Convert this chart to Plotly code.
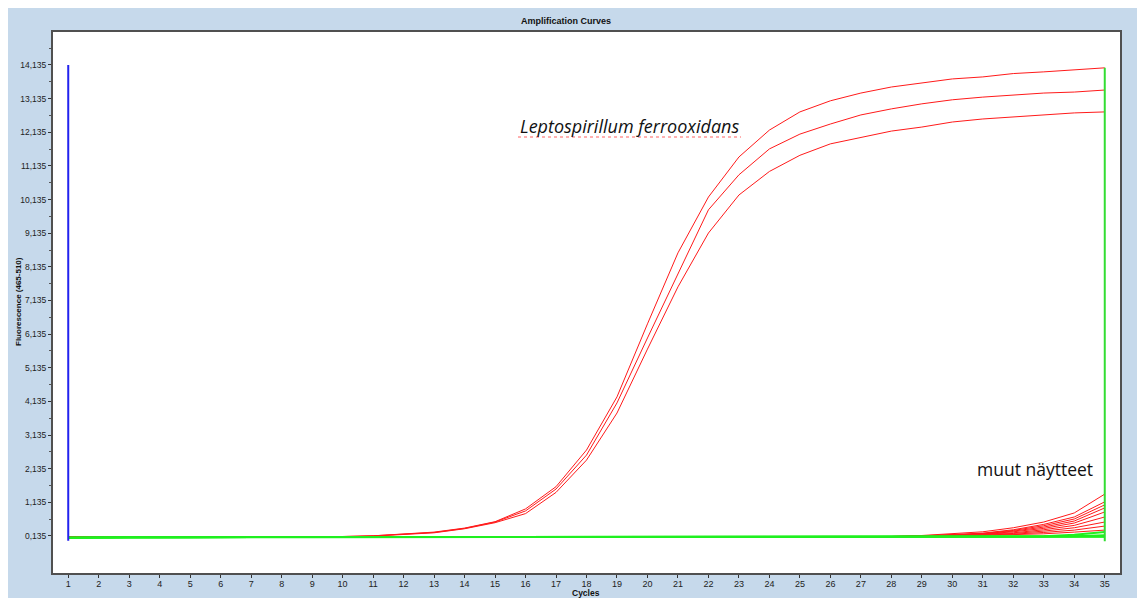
import plotly.graph_objects as go

# ---------------- data ----------------
cycles = list(range(1, 36))

lepto_1 = [0.10, 0.10, 0.10, 0.10, 0.10, 0.10, 0.10, 0.10, 0.10, 0.12, 0.14, 0.19, 0.25, 0.37, 0.56,
           0.94, 1.60, 2.69, 4.27, 6.44, 8.55, 10.21, 11.40, 12.20, 12.74, 13.07, 13.30, 13.48, 13.60, 13.72,
           13.78, 13.88, 13.93, 13.99, 14.05]
lepto_2 = [0.10, 0.10, 0.10, 0.10, 0.10, 0.10, 0.10, 0.10, 0.10, 0.12, 0.14, 0.18, 0.24, 0.36, 0.55,
           0.88, 1.53, 2.54, 4.09, 6.02, 7.95, 9.83, 10.87, 11.64, 12.08, 12.38, 12.65, 12.83, 12.98, 13.10,
           13.18, 13.24, 13.30, 13.33, 13.39]
lepto_3 = [0.10, 0.10, 0.10, 0.10, 0.10, 0.10, 0.10, 0.10, 0.10, 0.11, 0.13, 0.17, 0.23, 0.35, 0.53,
           0.80, 1.43, 2.39, 3.79, 5.69, 7.54, 9.14, 10.27, 10.97, 11.45, 11.79, 11.99, 12.17, 12.29, 12.44,
           12.53, 12.59, 12.65, 12.71, 12.74]

other_1 = [0.10, 0.10, 0.10, 0.10, 0.10, 0.10, 0.10, 0.10, 0.10, 0.10, 0.10, 0.10, 0.10, 0.10, 0.10,
           0.10, 0.10, 0.10, 0.10, 0.10, 0.10, 0.10, 0.10, 0.10, 0.10, 0.10, 0.10, 0.12, 0.15, 0.20,
           0.26, 0.38, 0.55, 0.82, 1.38]
other_2 = [0.10, 0.10, 0.10, 0.10, 0.10, 0.10, 0.10, 0.10, 0.10, 0.10, 0.10, 0.10, 0.10, 0.10, 0.10,
           0.10, 0.10, 0.10, 0.10, 0.10, 0.10, 0.10, 0.10, 0.10, 0.10, 0.10, 0.10, 0.12, 0.14, 0.17,
           0.22, 0.32, 0.48, 0.70, 1.15]
other_3 = [0.10, 0.10, 0.10, 0.10, 0.10, 0.10, 0.10, 0.10, 0.10, 0.10, 0.10, 0.10, 0.10, 0.10, 0.10,
           0.10, 0.10, 0.10, 0.10, 0.10, 0.10, 0.10, 0.10, 0.10, 0.10, 0.10, 0.10, 0.12, 0.14, 0.16,
           0.21, 0.30, 0.44, 0.64, 1.06]
other_4 = [0.10, 0.10, 0.10, 0.10, 0.10, 0.10, 0.10, 0.10, 0.10, 0.10, 0.10, 0.10, 0.10, 0.10, 0.10,
           0.10, 0.10, 0.10, 0.10, 0.10, 0.10, 0.10, 0.10, 0.10, 0.10, 0.10, 0.10, 0.11, 0.13, 0.16,
           0.20, 0.28, 0.40, 0.58, 0.97]
other_5 = [0.10, 0.10, 0.10, 0.10, 0.10, 0.10, 0.10, 0.10, 0.10, 0.10, 0.10, 0.10, 0.10, 0.10, 0.10,
           0.10, 0.10, 0.10, 0.10, 0.10, 0.10, 0.10, 0.10, 0.10, 0.10, 0.10, 0.10, 0.11, 0.13, 0.15,
           0.19, 0.26, 0.36, 0.52, 0.85]
other_6 = [0.10, 0.10, 0.10, 0.10, 0.10, 0.10, 0.10, 0.10, 0.10, 0.10, 0.10, 0.10, 0.10, 0.10, 0.10,
           0.10, 0.10, 0.10, 0.10, 0.10, 0.10, 0.10, 0.10, 0.10, 0.10, 0.10, 0.10, 0.11, 0.12, 0.15,
           0.18, 0.23, 0.32, 0.45, 0.70]
other_7 = [0.10, 0.10, 0.10, 0.10, 0.10, 0.10, 0.10, 0.10, 0.10, 0.10, 0.10, 0.10, 0.10, 0.10, 0.10,
           0.10, 0.10, 0.10, 0.10, 0.10, 0.10, 0.10, 0.10, 0.10, 0.10, 0.10, 0.10, 0.10, 0.12, 0.14,
           0.17, 0.21, 0.28, 0.38, 0.55]
other_8 = [0.10, 0.10, 0.10, 0.10, 0.10, 0.10, 0.10, 0.10, 0.10, 0.10, 0.10, 0.10, 0.10, 0.10, 0.10,
           0.10, 0.10, 0.10, 0.10, 0.10, 0.10, 0.10, 0.10, 0.10, 0.10, 0.10, 0.10, 0.10, 0.12, 0.14,
           0.16, 0.19, 0.24, 0.31, 0.43]
other_9 = [0.10, 0.10, 0.10, 0.10, 0.10, 0.10, 0.10, 0.10, 0.10, 0.10, 0.10, 0.10, 0.10, 0.10, 0.10,
           0.10, 0.10, 0.10, 0.10, 0.10, 0.10, 0.10, 0.10, 0.10, 0.10, 0.10, 0.10, 0.10, 0.11, 0.13,
           0.15, 0.17, 0.20, 0.25, 0.31]

neg_1 = [0.08, 0.10, 0.10, 0.10, 0.10, 0.10, 0.10, 0.10, 0.10, 0.10, 0.10, 0.10, 0.10, 0.10, 0.10,
         0.10, 0.10, 0.10, 0.10, 0.10, 0.10, 0.10, 0.10, 0.10, 0.10, 0.10, 0.10, 0.10, 0.10, 0.10,
         0.11, 0.12, 0.13, 0.17, 0.25]
neg_2 = [0.08, 0.10, 0.10, 0.10, 0.10, 0.10, 0.10, 0.10, 0.10, 0.10, 0.10, 0.10, 0.10, 0.10, 0.10,
         0.10, 0.10, 0.10, 0.10, 0.10, 0.10, 0.10, 0.10, 0.10, 0.10, 0.10, 0.10, 0.10, 0.10, 0.10,
         0.10, 0.11, 0.12, 0.13, 0.16]
neg_3 = [0.08, 0.10, 0.10, 0.10, 0.10, 0.10, 0.10, 0.10, 0.10, 0.10, 0.10, 0.10, 0.10, 0.10, 0.10,
         0.10, 0.10, 0.10, 0.10, 0.10, 0.10, 0.10, 0.10, 0.10, 0.10, 0.10, 0.10, 0.10, 0.10, 0.10,
         0.10, 0.10, 0.11, 0.11, 0.12]
neg_4 = [0.08, 0.09, 0.09, 0.09, 0.09, 0.10, 0.10, 0.10, 0.10, 0.10, 0.10, 0.10, 0.10, 0.10, 0.10,
         0.10, 0.10, 0.10, 0.10, 0.10, 0.10, 0.10, 0.10, 0.10, 0.10, 0.10, 0.09, 0.09, 0.10, 0.10,
         0.10, 0.10, 0.10, 0.10, 0.11]

lepto_series = [lepto_1, lepto_2, lepto_3]
other_series = [other_1, other_2, other_3, other_4, other_5, other_6, other_7, other_8, other_9]
neg_series = [neg_1, neg_2, neg_3, neg_4]

y_tick_values = [0.135, 1.135, 2.135, 3.135, 4.135, 5.135, 6.135, 7.135, 8.135, 9.135,
                 10.135, 11.135, 12.135, 13.135, 14.135]
y_tick_labels = ["0,135", "1,135", "2,135", "3,135", "4,135", "5,135", "6,135", "7,135", "8,135",
                 "9,135", "10,135", "11,135", "12,135", "13,135", "14,135"]
y_minor_values = [0.635, 1.635, 2.635, 3.635, 4.635, 5.635, 6.635, 7.635, 8.635, 9.635,
                  10.635, 11.635, 12.635, 13.635, 14.635]

start_marker = [1, -0.01, 14.135]   # cycle, bottom, top (blue)
end_marker = [35, -0.02, 14.05]     # cycle, bottom, top (green)

# ---------------- figure ----------------
RED = "#ff1a1a"
GREEN = "#1ff01f"

fig = go.Figure()

for s in lepto_series:
    fig.add_trace(go.Scatter(x=cycles, y=s, mode="lines", line=dict(color=RED, width=1),
                             showlegend=False, hoverinfo="skip"))
for s in other_series:
    fig.add_trace(go.Scatter(x=cycles, y=s, mode="lines", line=dict(color=RED, width=1),
                             showlegend=False, hoverinfo="skip"))
for s in neg_series:
    fig.add_trace(go.Scatter(x=cycles, y=s, mode="lines", line=dict(color=GREEN, width=2),
                             showlegend=False, hoverinfo="skip"))

# vertical markers
fig.add_trace(go.Scatter(x=[start_marker[0], start_marker[0]], y=[start_marker[1], start_marker[2]],
                         mode="lines", line=dict(color="#2222ee", width=2),
                         showlegend=False, hoverinfo="skip"))
fig.add_trace(go.Scatter(x=[end_marker[0], end_marker[0]], y=[end_marker[1], end_marker[2]],
                         mode="lines", line=dict(color="#33dd33", width=2),
                         showlegend=False, hoverinfo="skip"))

W, H = 1141, 598
L, R, T, B = 53, 21, 32, 25
pw, ph = W - L - R, H - T - B

def px_x(p):
    return (p - L) / pw

def px_y(p):
    return (H - B - p) / ph

BG = "#c6d9eb"
shapes = [
    # white strips around the outer panel
    dict(type="rect", xref="paper", yref="paper", x0=px_x(0), x1=px_x(W), y0=px_y(8), y1=px_y(0),
         fillcolor="white", line=dict(width=0), layer="below"),
    dict(type="rect", xref="paper", yref="paper", x0=px_x(0), x1=px_x(8), y0=px_y(H), y1=px_y(0),
         fillcolor="white", line=dict(width=0), layer="below"),
    dict(type="rect", xref="paper", yref="paper", x0=px_x(1137), x1=px_x(W), y0=px_y(H), y1=px_y(0),
         fillcolor="white", line=dict(width=0), layer="below"),
    # spell-check style underline
    dict(type="line", xref="paper", yref="paper", x0=px_x(518), x1=px_x(741), y0=px_y(137), y1=px_y(137),
         line=dict(color="#ff6060", width=1, dash="dot")),
]

def ann(text, x, y, size, family, angle=0):
    return dict(text=text, xref="paper", yref="paper", x=px_x(x), y=px_y(y),
                xanchor="center", yanchor="middle", textangle=angle, showarrow=False,
                font=dict(family=family, size=size, color="#111"))

SANS = "Liberation Sans, Arial"
annotations = [
    ann("<b>Amplification Curves</b>", 566, 21, 9, SANS),
    ann("<b>Fluorescence (465-510)</b>", 18, 302, 8, SANS, -90),
    ann("<b>Cycles</b>", 586, 593, 8.5, SANS),
    ann("<i>Leptospirillum ferrooxidans</i>", 629, 126, 18, "Open Sans"),
    ann("muut näytteet", 1035, 469, 17.5, "Open Sans"),
]

fig.update_layout(
    width=W, height=H,
    margin=dict(l=L, r=R, t=T, b=B, pad=0, autoexpand=False),
    paper_bgcolor=BG, plot_bgcolor="white",
    shapes=shapes, annotations=annotations,
    showlegend=False,
)

fig.update_xaxes(
    range=[0.5, 35.5], tickmode="array", tickvals=cycles, ticktext=[str(c) for c in cycles],
    ticks="outside", ticklen=3, tickcolor="#333", showgrid=False, zeroline=False,
    showline=True, linecolor="#505050", linewidth=2, mirror=True, automargin=False,
    ticklabelstandoff=-2,
    tickfont=dict(family=SANS, size=9, color="#222"),
)
fig.update_yaxes(
    range=[-0.965, 15.115], tickmode="array", tickvals=y_tick_values, ticktext=y_tick_labels,
    ticks="outside", ticklen=3, tickcolor="#333", showgrid=False, zeroline=False,
    showline=True, linecolor="#505050", linewidth=2, mirror=True, automargin=False,
    minor=dict(tickvals=y_minor_values, ticks="outside", ticklen=2, tickcolor="#555"),
    tickfont=dict(family=SANS, size=8.5, color="#222"),
)

fig.write_html("out.html")
